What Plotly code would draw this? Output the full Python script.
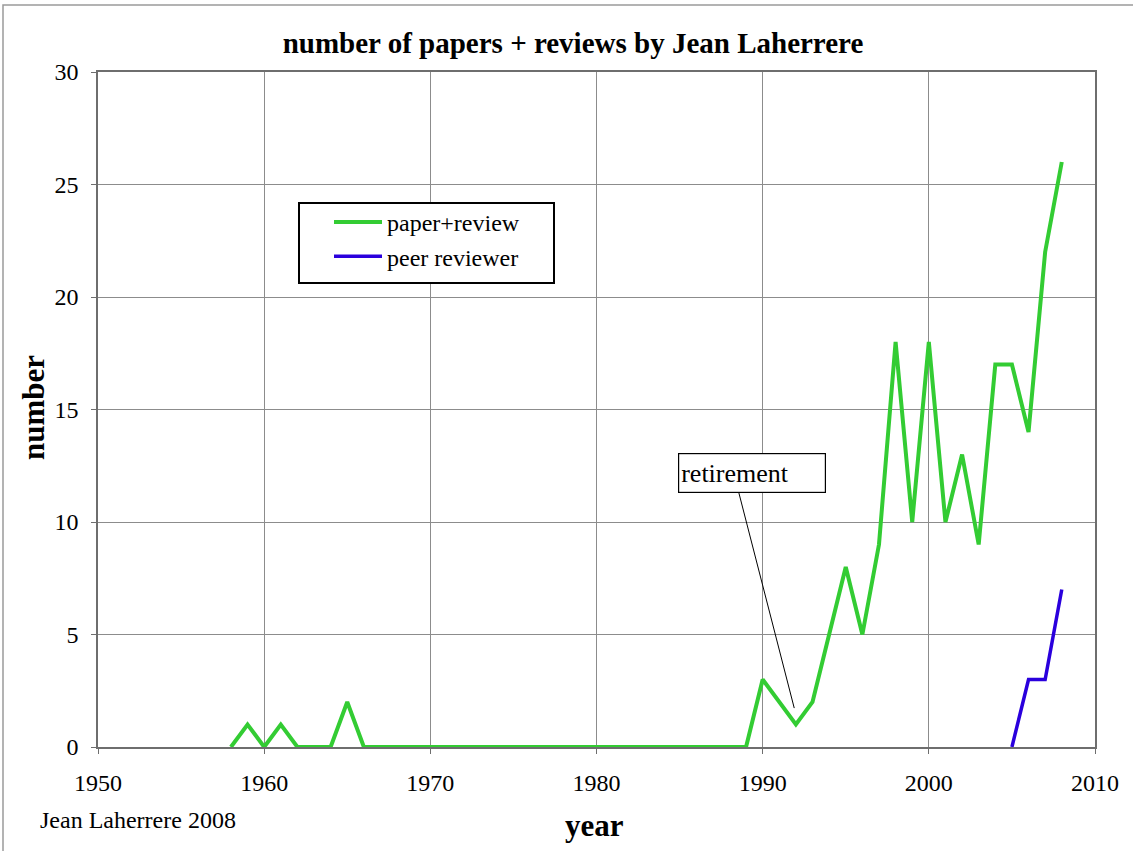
import plotly.graph_objects as go

years_paper = list(range(1958, 2009))
paper_review = [0, 1, 0, 1, 0, 0, 0, 2] + [0] * 24 + [3, 2, 1, 2, 5, 8, 5, 9, 18, 10, 18, 10, 13, 9, 17, 17, 14, 22, 26]
years_peer = [2005, 2006, 2007, 2008]
peer_reviewer = [0, 3, 3, 7]

x_ticks = [1950, 1960, 1970, 1980, 1990, 2000, 2010]
y_ticks = [0, 5, 10, 15, 20, 25, 30]

serif = "Liberation Serif, Times New Roman, serif"

W, H = 1133, 851
L, R, T, B = 98, 38, 72, 104
PW, PH = W - L - R, H - T - B


def px_x(p):
    return (p - L) / PW


def px_y(p):
    return (H - B - p) / PH


fig = go.Figure()
fig.add_trace(go.Scatter(x=years_paper, y=paper_review, mode="lines", name="paper+review",
                         line=dict(color="#33CC33", width=4)))
fig.add_trace(go.Scatter(x=years_peer, y=peer_reviewer, mode="lines", name="peer reviewer",
                         line=dict(color="#2A00DD", width=3.5)))

fig.update_layout(
    width=W, height=H,
    margin=dict(l=L, r=R, t=T, b=B, autoexpand=False),
    paper_bgcolor="white", plot_bgcolor="white",
    font=dict(family=serif, size=24, color="black"),
    title=dict(text="<b>number of papers + reviews by Jean Laherrere</b>", x=573 / W, xanchor="center",
               y=1 - 43 / H, yanchor="middle", font=dict(size=29, family=serif)),
    showlegend=True,
    legend=dict(x=px_x(329), y=px_y(200), xanchor="left", yanchor="top",
                bgcolor="rgba(0,0,0,0)", borderwidth=0,
                font=dict(size=24, family=serif), itemwidth=48,
                tracegroupgap=0),
    xaxis=dict(range=[1950, 2010], tickvals=x_ticks, ticktext=[str(v) for v in x_ticks],
               showgrid=True, gridcolor="#8c8c8c", gridwidth=1,
               showline=True, linecolor="#6e6e6e", linewidth=1.5, mirror=True,
               ticks="outside", ticklen=5, tickcolor="#6e6e6e",
               zeroline=False, automargin=False, ticklabelstandoff=8,
               tickfont=dict(size=24, family=serif)),
    yaxis=dict(range=[0, 30], tickvals=y_ticks,
               showgrid=True, gridcolor="#8c8c8c", gridwidth=1,
               showline=True, linecolor="#6e6e6e", linewidth=1.5, mirror=True,
               ticks="outside", ticklen=5, tickcolor="#6e6e6e",
               zeroline=False, automargin=False, ticklabelstandoff=8,
               tickfont=dict(size=24, family=serif)),
)

# legend box
fig.add_shape(type="rect", xref="paper", yref="paper",
              x0=px_x(299), x1=px_x(554), y0=px_y(283), y1=px_y(203),
              line=dict(color="black", width=2), fillcolor="white", layer="above")

# axis titles
fig.add_annotation(text="<b>year</b>", xref="paper", yref="paper", x=px_x(594), y=px_y(825),
                   showarrow=False, font=dict(size=31, family=serif), xanchor="center", yanchor="middle")
fig.add_annotation(text="<b>number</b>", xref="paper", yref="paper", x=px_x(33), y=px_y(408),
                   showarrow=False, font=dict(size=31, family=serif), textangle=-90,
                   xanchor="center", yanchor="middle")

# retirement callout
fig.add_shape(type="line", x0=1988.57, y0=11.29, x1=1991.9, y1=1.73,
              line=dict(color="black", width=1), xref="x", yref="y")
fig.add_annotation(x=1989.36, y=12.18, xref="x", yref="y", text="retirement",
                   showarrow=False, font=dict(size=26, family=serif),
                   bgcolor="white", bordercolor="black", borderwidth=1.2,
                   width=142, height=34, align="left", valign="middle", borderpad=2)

fig.add_annotation(x=px_x(38), y=px_y(820), xref="paper", yref="paper", text="Jean Laherrere 2008",
                   showarrow=False, font=dict(size=24, family=serif), xanchor="left", yanchor="middle")

# outer page frame
fig.add_shape(type="rect", xref="paper", yref="paper",
              x0=px_x(3), x1=px_x(W + 10), y0=px_y(H + 10), y1=px_y(5),
              line=dict(color="#9a9a9a", width=1.5), layer="below")

fig.write_html("out.html", config={"displayModeBar": False},
               post_script="document.body.style.margin='0';document.body.style.overflow='hidden';")
